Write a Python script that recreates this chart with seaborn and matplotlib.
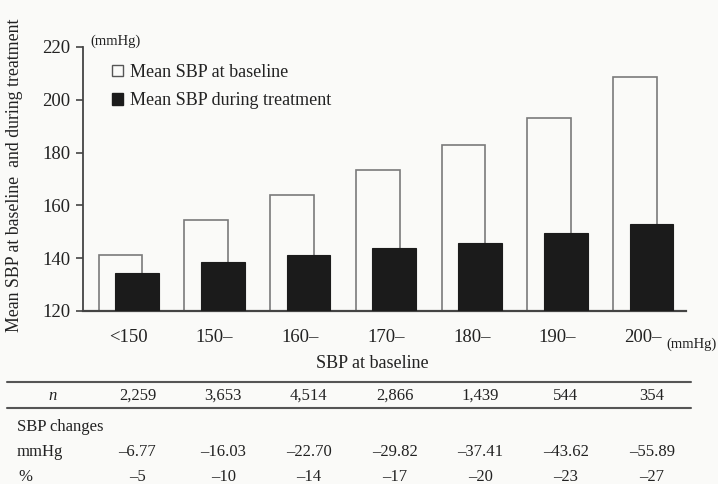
import matplotlib
matplotlib.use("Agg")
import matplotlib.pyplot as plt
import matplotlib.transforms as mtransforms
import numpy as np
import pandas as pd
import seaborn as sns

# ---- data ----
categories = ["<150", "150\u2013", "160\u2013", "170\u2013", "180\u2013", "190\u2013", "200\u2013"]
sbp_baseline = [141.3, 154.6, 163.8, 173.5, 183.0, 193.0, 208.8]
sbp_treatment = [134.5, 138.5, 141.1, 143.7, 145.6, 149.4, 152.9]
n_patients = [2259, 3653, 4514, 2866, 1439, 544, 354]
change_mmhg = [-6.77, -16.03, -22.70, -29.82, -37.41, -43.62, -55.89]
change_pct = [-5, -10, -14, -17, -20, -23, -27]

W, H = 718, 484
BG = "#fafaf8"
TXT = "#222222"

sns.set_theme(style="white")
plt.rcParams["font.family"] = ["Liberation Serif", "DejaVu Serif"]
plt.rcParams["text.color"] = TXT
plt.rcParams["axes.labelcolor"] = TXT
plt.rcParams["xtick.color"] = TXT
plt.rcParams["ytick.color"] = TXT

fig = plt.figure(figsize=(W / 100, H / 100), dpi=100, facecolor=BG)
ax = fig.add_axes([83 / W, 1 - 311 / H, 603 / W, 264 / H])
ax.set_facecolor(BG)


def fx(px):
    return px / W


def fy(py):
    return 1 - py / H


pos = np.arange(len(categories))
shift = 0.097
df = pd.DataFrame({
    "group": pos,
    "baseline": sbp_baseline,
    "treatment": sbp_treatment,
})
df["x_base"] = df["group"] - shift
df["x_treat"] = df["group"] + shift

sns.barplot(data=df, x="x_base", y="baseline", native_scale=True, width=0.51,
            color=BG, edgecolor="#7a7a7a", linewidth=1.2, ax=ax,
            label="Mean SBP at baseline", zorder=2)
sns.barplot(data=df, x="x_treat", y="treatment", native_scale=True, width=0.51,
            color="#1b1b1b", edgecolor="#1b1b1b", linewidth=0.8, ax=ax,
            label="Mean SBP during treatment", zorder=3)
for p in ax.patches:
    if p.get_facecolor()[0] > 0.5:
        p.set_facecolor(BG)

ax.set_xlim(-0.535, 6.5)
ax.set_ylim(120, 220)
ax.set_yticks([120, 140, 160, 180, 200, 220])
ax.set_xticks(pos)
ax.set_xticklabels(categories, fontsize=13.5)
ax.tick_params(axis="x", length=0, pad=13)
ax.tick_params(axis="y", length=5, width=1.2, color="#444444", direction="out",
               labelsize=13.5, pad=4, left=True)

sns.despine(ax=ax, top=True, right=True)
ax.spines["left"].set_color("#444444")
ax.spines["left"].set_linewidth(1.3)
ax.spines["bottom"].set_color("#444444")
ax.spines["bottom"].set_linewidth(1.6)

ax.set_xlabel("SBP at baseline", fontsize=13)
ax.xaxis.set_label_coords((372 - 83) / 603, -(363 - 311) / 264)
ax.xaxis.label.set_va("center")
ax.set_ylabel("Mean SBP at baseline  and during treatment", fontsize=12.8)
ax.yaxis.set_label_coords((15 - 83) / 603, (311 - 175) / 264)
ax.yaxis.label.set_va("center")

fig.text(fx(90), fy(41), "(mmHg)", fontsize=10.5, ha="left", va="center")
fig.text(fx(717), fy(344), "(mmHg)", fontsize=10.5, ha="right", va="center")

leg = ax.legend(loc="upper left", bbox_to_anchor=(fx(112), fy(64)),
                bbox_transform=fig.transFigure, frameon=False, fontsize=13,
                handlelength=0.62, handleheight=0.62, handletextpad=0.35,
                labelspacing=0.62, borderpad=0, borderaxespad=0)
for h in leg.legend_handles:
    h.set_linewidth(1.0)
leg.legend_handles[0].set_edgecolor("#555555")

# ---- summary table under the chart ----
tr = mtransforms.blended_transform_factory(ax.transData, fig.transFigure)
line_kw = dict(color="#555555", linewidth=1.5)
fig.add_artist(plt.Line2D([fx(7), fx(691)], [fy(382), fy(382)], **line_kw))
fig.add_artist(plt.Line2D([fx(7), fx(691)], [fy(408), fy(408)], **line_kw))

tsize = 12
col_off = 0.1
fig.text(fx(53), fy(396), "n", fontsize=tsize, style="italic", ha="center", va="center")
fig.text(fx(17), fy(427), "SBP changes", fontsize=tsize, ha="left", va="center")
fig.text(fx(17), fy(452), "mmHg", fontsize=tsize, ha="left", va="center")
fig.text(fx(25), fy(477), "%", fontsize=tsize, ha="center", va="center")

for i in range(len(categories)):
    xc = pos[i] + col_off
    fig.text(xc, fy(396), f"{n_patients[i]:,}", fontsize=tsize, ha="center",
             va="center", transform=tr)
    fig.text(xc, fy(452), f"{change_mmhg[i]:.2f}".replace("-", "\u2013"),
             fontsize=tsize, ha="center", va="center", transform=tr)
    fig.text(xc, fy(477), f"{change_pct[i]}".replace("-", "\u2013"),
             fontsize=tsize, ha="center", va="center", transform=tr)

fig.savefig("out.png", dpi=100, facecolor=BG)
